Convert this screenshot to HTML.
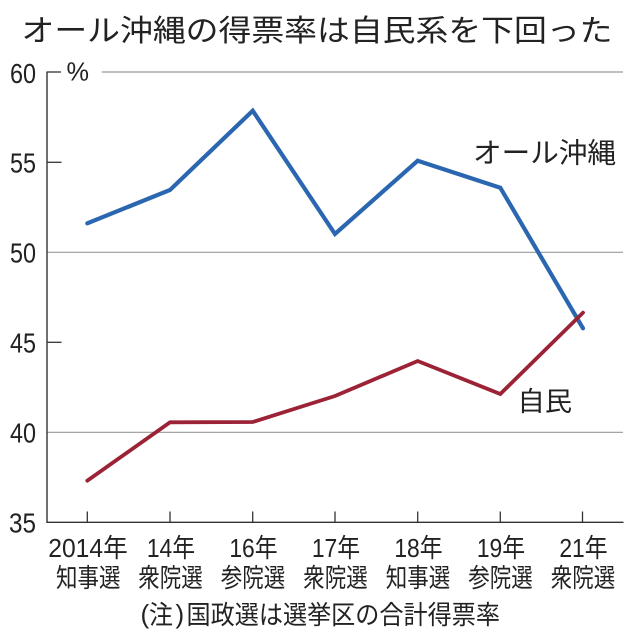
<!DOCTYPE html>
<html><head><meta charset="utf-8"><style>
html,body{margin:0;padding:0;background:#fff;}
svg{display:block;}
text{fill:#222;}
</style></head><body>
<svg width="638" height="637" viewBox="0 0 638 637" xmlns="http://www.w3.org/2000/svg" font-family="'Liberation Sans','Noto Sans CJK JP',sans-serif">
<rect width="638" height="637" fill="#fff"/>
<!-- title -->
<text x="21.5" y="31.7" font-size="30" dominant-baseline="central" textLength="591" lengthAdjust="spacingAndGlyphs">オール沖縄の得票率は自民系を下回った</text>
<!-- gridlines -->
<line x1="101.7" y1="72" x2="623" y2="72" stroke="#999" stroke-width="1.2"/>
<line x1="47" y1="252.3" x2="623" y2="252.3" stroke="#999" stroke-width="1.2"/>
<line x1="47" y1="432.3" x2="623" y2="432.3" stroke="#999" stroke-width="1.2"/>
<!-- axes -->
<line x1="47" y1="71.5" x2="47" y2="522.3" stroke="#333" stroke-width="1.4"/>
<line x1="46.3" y1="522.3" x2="623.5" y2="522.3" stroke="#333" stroke-width="1.4"/>
<line x1="47" y1="72" x2="61" y2="72" stroke="#333" stroke-width="1.3"/>
<line x1="47" y1="162.3" x2="61.5" y2="162.3" stroke="#333" stroke-width="1.3"/>
<line x1="47" y1="342.3" x2="61.5" y2="342.3" stroke="#333" stroke-width="1.3"/>
<!-- x ticks -->
<g stroke="#333" stroke-width="1.3">
<line x1="87.3" y1="511.5" x2="87.3" y2="522"/>
<line x1="170" y1="511.5" x2="170" y2="522"/>
<line x1="252.7" y1="511.5" x2="252.7" y2="522"/>
<line x1="335" y1="511.5" x2="335" y2="522"/>
<line x1="417.7" y1="511.5" x2="417.7" y2="522"/>
<line x1="500.3" y1="511.5" x2="500.3" y2="522"/>
<line x1="582.5" y1="511.5" x2="582.5" y2="522"/>
</g>
<!-- y labels -->
<g font-size="28" text-anchor="end" dominant-baseline="central">
<text x="36" y="73.5" textLength="26" lengthAdjust="spacingAndGlyphs">60</text>
<text x="36" y="163" textLength="26" lengthAdjust="spacingAndGlyphs">55</text>
<text x="36" y="253" textLength="26" lengthAdjust="spacingAndGlyphs">50</text>
<text x="36" y="343" textLength="26" lengthAdjust="spacingAndGlyphs">45</text>
<text x="36" y="433" textLength="26" lengthAdjust="spacingAndGlyphs">40</text>
<text x="36" y="522.8" textLength="27" lengthAdjust="spacingAndGlyphs">35</text>
</g>
<text x="66.5" y="71.5" font-size="26" dominant-baseline="central" textLength="22.5" lengthAdjust="spacingAndGlyphs">%</text>
<!-- series -->
<polyline points="87.3,223.3 170,190 252.7,110.7 335,234 417.7,160.7 500.3,187.7 583,328.3" fill="none" stroke="#2b66b0" stroke-width="4.2" stroke-linejoin="miter" stroke-linecap="round"/>
<polyline points="87.3,480.7 170,422.3 252.7,422 335,396 417.7,361 500.3,394 583,312.7" fill="none" stroke="#9c2236" stroke-width="3.8" stroke-linejoin="miter" stroke-linecap="round"/>
<!-- series labels -->
<text x="473" y="153" font-size="28" dominant-baseline="central" textLength="143" lengthAdjust="spacingAndGlyphs">オール沖縄</text>
<text x="517.5" y="402" font-size="27" dominant-baseline="central" textLength="54.5" lengthAdjust="spacingAndGlyphs">自民</text>
<!-- x labels row 1 -->
<g font-size="26" text-anchor="middle" dominant-baseline="central">
<text x="88" y="548" textLength="79.4" lengthAdjust="spacingAndGlyphs">2014年</text>
<text x="171" y="548" textLength="48.3" lengthAdjust="spacingAndGlyphs">14年</text>
<text x="253.5" y="548" textLength="48.3" lengthAdjust="spacingAndGlyphs">16年</text>
<text x="336" y="548" textLength="48.3" lengthAdjust="spacingAndGlyphs">17年</text>
<text x="418.5" y="548" textLength="48.3" lengthAdjust="spacingAndGlyphs">18年</text>
<text x="501" y="548" textLength="48.3" lengthAdjust="spacingAndGlyphs">19年</text>
<text x="583.5" y="548" textLength="48.3" lengthAdjust="spacingAndGlyphs">21年</text>
</g>
<!-- x labels row 2 -->
<g font-size="26" text-anchor="middle" dominant-baseline="central">
<text x="88.3" y="578" textLength="64.5" lengthAdjust="spacingAndGlyphs">知事選</text>
<text x="170.5" y="578" textLength="64.5" lengthAdjust="spacingAndGlyphs">衆院選</text>
<text x="253" y="578" textLength="64.5" lengthAdjust="spacingAndGlyphs">参院選</text>
<text x="335.5" y="578" textLength="64.5" lengthAdjust="spacingAndGlyphs">衆院選</text>
<text x="418" y="578" textLength="64.5" lengthAdjust="spacingAndGlyphs">知事選</text>
<text x="500.5" y="578" textLength="64.5" lengthAdjust="spacingAndGlyphs">参院選</text>
<text x="583" y="578" textLength="64.5" lengthAdjust="spacingAndGlyphs">衆院選</text>
</g>
<!-- note -->
<g font-size="26" dominant-baseline="central">
<text x="140.5" y="614">(</text>
<text x="149" y="615" textLength="24" lengthAdjust="spacingAndGlyphs">注</text>
<text x="175.5" y="614">)</text>
<text x="186.5" y="615" textLength="313.5" lengthAdjust="spacingAndGlyphs">国政選は選挙区の合計得票率</text>
</g>
</svg>
</body></html>
